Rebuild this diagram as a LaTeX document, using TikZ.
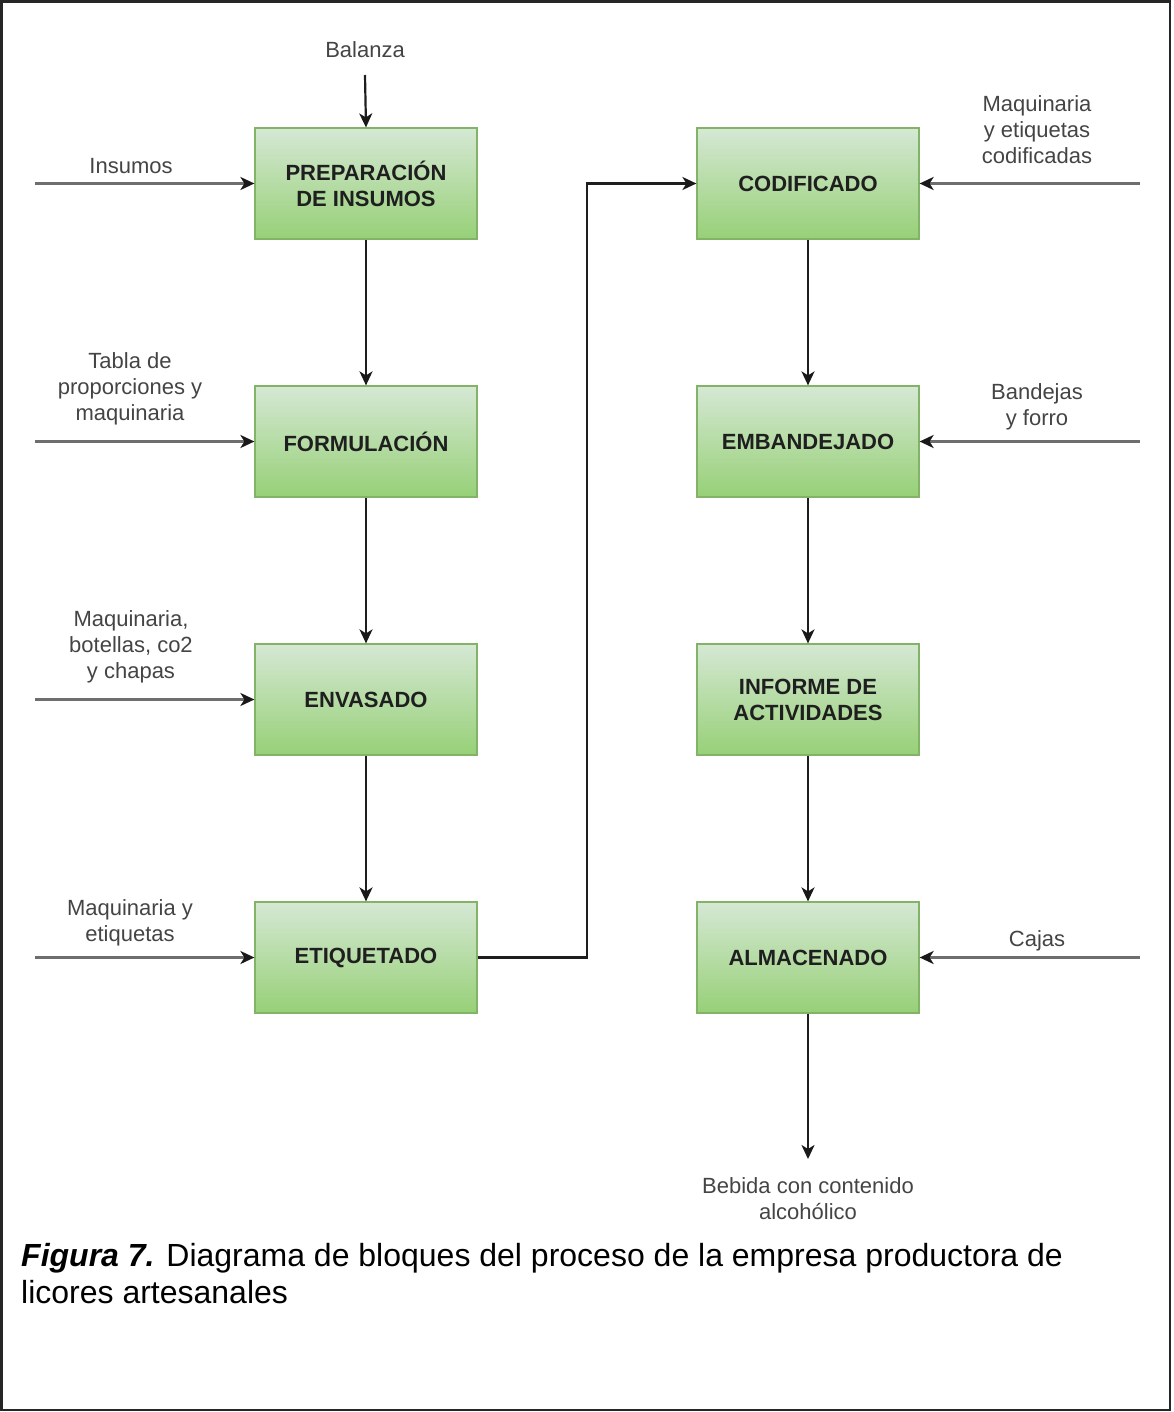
\documentclass[tikz,border=0pt]{standalone}
\usepackage{fontspec}
\setmainfont{Liberation Sans}
\usetikzlibrary{arrows.meta}
\definecolor{boxtop}{HTML}{D5E8D4}
\definecolor{boxbot}{HTML}{97D077}
\definecolor{boxline}{HTML}{82B366}
\definecolor{labeltext}{HTML}{444444}
\definecolor{feedline}{HTML}{6E6E6E}
\definecolor{flowline}{HTML}{1E1E1E}
\begin{document}
\begin{tikzpicture}[x=1pt,y=-1pt,
  stage/.style={draw=boxline, line width=1.2pt, top color=boxtop, bottom color=boxbot,
    minimum width=222pt, minimum height=111pt, inner sep=0pt, align=center,
    font=\fontsize{22}{26}\selectfont\bfseries, text=black!88},
  lbl/.style={align=center, font=\fontsize{22}{26}\selectfont, text=labeltext, inner sep=0pt},
  tip/.style={-{Stealth[length=14pt,width=13pt,inset=4pt,color=black!90]}},
  feed/.style={draw=feedline, line width=2.8pt, tip},
  flow/.style={draw=flowline, line width=2.2pt, tip}]
\useasboundingbox (0,0) rectangle (1173,1412);
% outer frame
\draw[line width=2.6pt, black!85] (1.5,1.5) rectangle (1170,1410);

% left column of stages
\node[stage] (prep) at (366,183.5) {PREPARACIÓN\\DE INSUMOS};
\node[stage] (form) at (366,441.5) {FORMULACIÓN};
\node[stage] (env)  at (366,699.5) {ENVASADO};
\node[stage] (etiq) at (366,957.5) {ETIQUETADO};
% right column of stages
\node[stage] (cod)  at (808,183.5) {CODIFICADO};
\node[stage] (emb)  at (808,441.5) {EMBANDEJADO};
\node[stage] (inf)  at (808,699.5) {INFORME DE\\ACTIVIDADES};
\node[stage] (alm)  at (808,957.5) {ALMACENADO};

% input labels
\node[lbl] (tBal) at (365,50) {Balanza};
\node[lbl] (tIns) at (131,166) {Insumos};
\node[lbl] (tTab) at (130,389) {Tabla de\\proporciones y\\maquinaria};
\node[lbl] (tBot) at (131,647) {Maquinaria,\\botellas, co2\\y chapas};
\node[lbl] (tEtq) at (130,923) {Maquinaria y\\etiquetas};
\node[lbl] (tCod) at (1037,130) {Maquinaria\\y etiquetas\\codificadas};
\node[lbl] (tBan) at (1037,407) {Bandejas\\y forro};
\node[lbl] (tCaj) at (1037,941) {Cajas};
\node[lbl] (tOut) at (808,1199) {Bebida con contenido\\alcohólico};

% free ends of the input and output lines
\coordinate (bIn) at (365,75);
\coordinate (iIn) at (35,183.5);
\coordinate (fIn) at (35,441.5);
\coordinate (eIn) at (35,699.5);
\coordinate (qIn) at (35,957.5);
\coordinate (cIn) at (1140,183.5);
\coordinate (mIn) at (1140,441.5);
\coordinate (aIn) at (1140,957.5);
\coordinate (out) at (808,1159);

% inputs
\draw[flow] (bIn) -- (prep.north);
\draw[feed] (iIn) -- (prep.west);
\draw[feed] (fIn) -- (form.west);
\draw[feed] (eIn) -- (env.west);
\draw[feed] (qIn) -- (etiq.west);
\draw[feed] (cIn) -- (cod.east);
\draw[feed] (mIn) -- (emb.east);
\draw[feed] (aIn) -- (alm.east);

% process flow
\draw[flow] (prep.south) -- (form.north);
\draw[flow] (form.south) -- (env.north);
\draw[flow] (env.south) -- (etiq.north);
\draw[flow] (etiq.east) -- (587,957.5) |- (cod.west);
\draw[flow] (cod.south) -- (emb.north);
\draw[flow] (emb.south) -- (inf.north);
\draw[flow] (inf.south) -- (alm.north);
\draw[flow] (alm.south) -- (out);

% caption
\node[anchor=base west, align=left, inner sep=0pt, font=\fontsize{32}{36.5}\selectfont, text=black]
  (cap) at (21,1303) {\textbf{\textit{Figura 7.}} Diagrama de bloques del proceso de la empresa productora de\\licores artesanales};
\end{tikzpicture}
\end{document}
